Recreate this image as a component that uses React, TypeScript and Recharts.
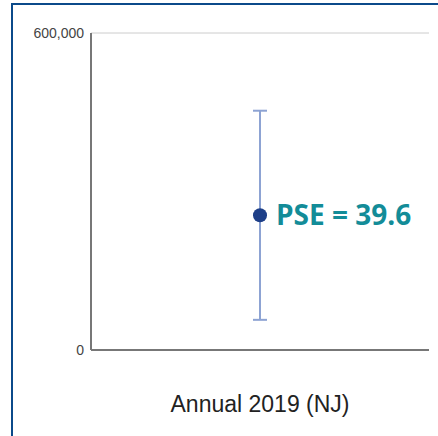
import React from "react";
import {
  ComposedChart,
  Scatter,
  ErrorBar,
  XAxis,
  YAxis,
  CartesianGrid,
  LabelList,
} from "recharts";

// Annual estimate for New Jersey with its 95% confidence interval
const categories = ["Annual 2019 (NJ)"];
const estimates = [255000];
const ciLower = [57100];
const ciUpper = [452900];
const pseValues = [39.6];
const yTicks = [0, 600000];

const data = categories.map((name, i) => ({
  x: i + 1,
  name,
  value: estimates[i],
  err: [estimates[i] - ciLower[i], ciUpper[i] - estimates[i]],
  pse: pseValues[i],
}));

const formatNumber = (v: number) => v.toLocaleString("en-US");

const PseLabel = (props: any) => {
  const { viewBox, value } = props;
  const cx = viewBox.x + viewBox.width / 2;
  const cy = viewBox.y + viewBox.height / 2;
  return (
    <text
      x={cx + 16}
      y={cy + 10}
      fill="#138c98"
      fontFamily="'Open Sans', Lato, sans-serif"
      fontWeight={700}
      fontSize={28}
    >
      {`PSE = ${value}`}
    </text>
  );
};

const PointShape = (props: any) => {
  const { cx, cy } = props;
  return <circle cx={cx} cy={cy} r={7} fill="#1e3f88" />;
};

export default function App() {
  return (
    <div
      style={{
        position: "absolute",
        left: 0,
        top: 0,
        width: 438,
        height: 436,
        background: "#fff",
        overflow: "hidden",
      }}
    >
      <div
        style={{
          position: "absolute",
          left: 11,
          top: 3,
          width: 600,
          height: 600,
          border: "2px solid #0b4a8a",
          boxSizing: "border-box",
        }}
      />
      <div style={{ position: "absolute", left: 0, top: 0 }}>
        <ComposedChart
          width={438}
          height={436}
          data={data}
          margin={{ top: 33, right: 9, bottom: 0, left: 0 }}
        >
          <CartesianGrid horizontal vertical={false} stroke="#cccccc" />
          <XAxis
            type="number"
            dataKey="x"
            domain={[0, 2]}
            ticks={[1]}
            tickFormatter={(v: number) => categories[v - 1] ?? ""}
            height={86}
            axisLine={{ stroke: "#777777", strokeWidth: 2 }}
            tickLine={false}
            tickSize={6}
            tickMargin={40}
            tick={{
              fill: "#222222",
              fontSize: 23,
              fontFamily: "'Liberation Sans', Arial, sans-serif",
            }}
          />
          <YAxis
            type="number"
            domain={[0, 600000]}
            ticks={yTicks}
            width={91}
            tickFormatter={formatNumber}
            axisLine={{ stroke: "#777777", strokeWidth: 2 }}
            tickLine={false}
            tickSize={5}
            tickMargin={2}
            tick={{
              fill: "#444444",
              fontSize: 14,
              fontFamily: "'Liberation Sans', Arial, sans-serif",
            }}
          />
          <Scatter
            dataKey="value"
            shape={<PointShape />}
            isAnimationActive={false}
          >
            <ErrorBar
              dataKey="err"
              direction="y"
              width={7}
              stroke="#8da3d3"
              strokeWidth={2}
            />
            <LabelList dataKey="pse" content={<PseLabel />} />
          </Scatter>
        </ComposedChart>
      </div>
    </div>
  );
}
